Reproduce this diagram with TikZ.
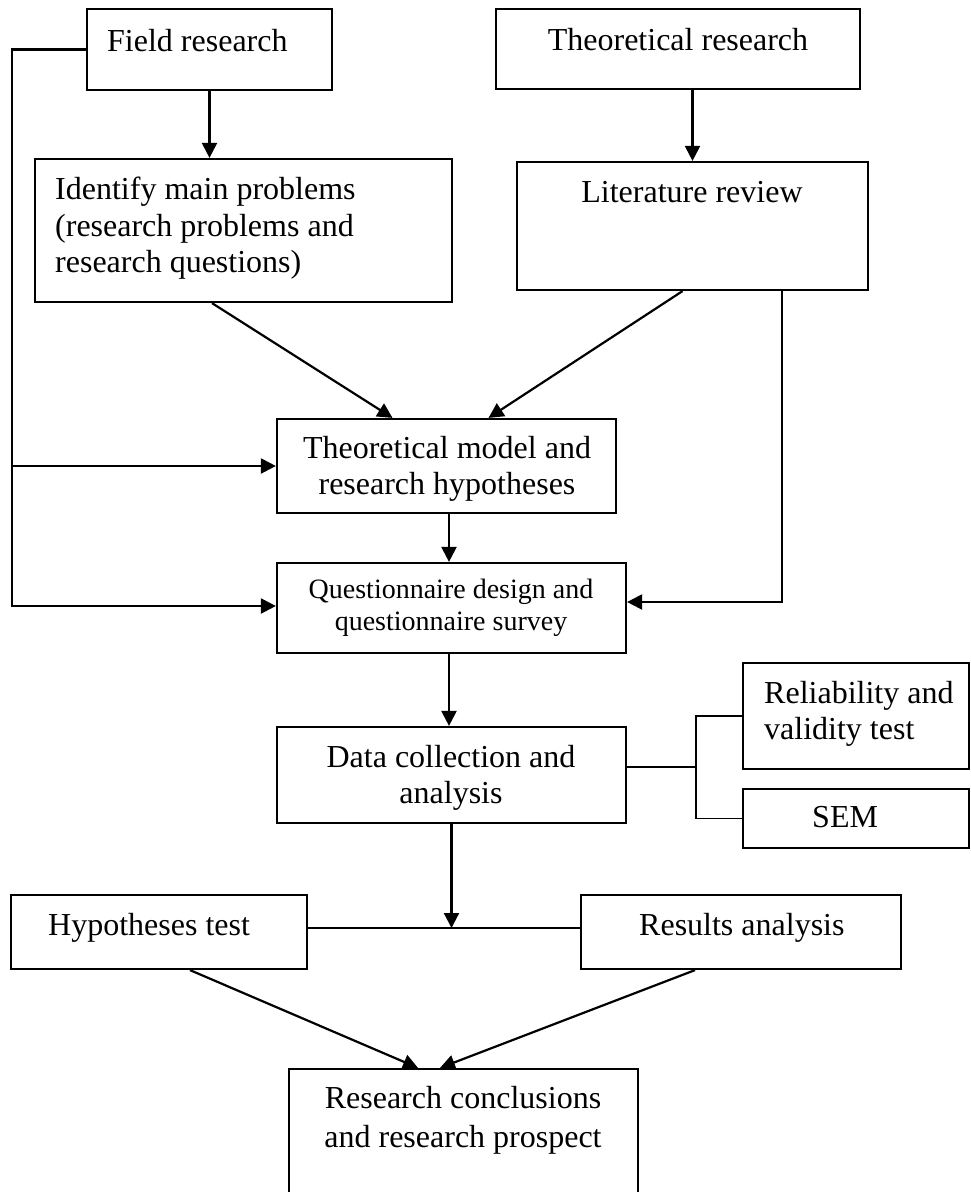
\documentclass[tikz,border=0pt]{standalone}
\usepackage{fontspec}
\setmainfont{Liberation Serif}
\usetikzlibrary{arrows.meta}
\begin{document}
\begin{tikzpicture}[x=1pt,y=-1pt,
  box/.style={draw, line width=2.2pt, rectangle, inner sep=0pt},
  lbl/.style={inner sep=0pt, font=\fontsize{32}{38}\selectfont},
  lblsmall/.style={inner sep=0pt, font=\fontsize{28}{33}\selectfont},
  thinlink/.style={line width=1.7pt},
  arr/.style={line width=2.2pt, -{Triangle[length=15pt,width=15pt]}}]
\useasboundingbox (0,0) rectangle (971,1192);
\clip (0,0) rectangle (971,1192);
\fill[white] (0,0) rectangle (971,1192);

% boxes
\node[box, minimum width=245pt, minimum height=81pt]  (field) at (209.5,49.5) {};
\node[box, minimum width=364pt, minimum height=80pt]  (theo)  at (678,49) {};
\node[box, minimum width=417pt, minimum height=143pt] (ident) at (243.5,230.5) {};
\node[box, minimum width=351pt, minimum height=128pt] (lit)   at (692.5,226) {};
\node[box, minimum width=339pt, minimum height=94pt]  (model) at (446.5,466) {};
\node[box, minimum width=349pt, minimum height=90pt]  (quest) at (451.5,608) {};
\node[box, minimum width=349pt, minimum height=96pt]  (data)  at (451.5,775) {};
\node[box, minimum width=226pt, minimum height=106pt] (rel)   at (856,716) {};
\node[box, minimum width=226pt, minimum height=59pt]  (sem)   at (856,818.5) {};
\node[box, minimum width=296pt, minimum height=74pt]  (hyp)   at (159,932) {};
\node[box, minimum width=320pt, minimum height=74pt]  (res)   at (741,932) {};
\node[box, minimum width=349pt, minimum height=141pt] (conc)  at (463.5,1139.5) {};

% texts
\node[lbl, anchor=base west] (field-t) at (107,51) {Field research};
\node[lbl, anchor=base] (theo-t) at (678,50) {Theoretical research};
\node[lbl, anchor=base west] (ident-t1) at (55,199) {Identify main problems};
\node[lbl, anchor=base west] (ident-t2) at (55,236) {(research problems and};
\node[lbl, anchor=base west] (ident-t3) at (55,272) {research questions)};
\node[lbl, anchor=base] (lit-t) at (692,202) {Literature review};
\node[lbl, anchor=base] (model-t1) at (447,458) {Theoretical model and};
\node[lbl, anchor=base] (model-t2) at (447,494) {research hypotheses};
\node[lblsmall, anchor=base] (quest-t1) at (451,598) {Questionnaire design and};
\node[lblsmall, anchor=base] (quest-t2) at (451,630) {questionnaire survey};
\node[lbl, anchor=base] (data-t1) at (451,767) {Data collection and};
\node[lbl, anchor=base] (data-t2) at (451,803) {analysis};
\node[lbl, anchor=base west] (rel-t1) at (764,703) {Reliability and};
\node[lbl, anchor=base west] (rel-t2) at (764,739) {validity test};
\node[lbl, anchor=base west] (sem-t) at (812,827) {SEM};
\node[lbl, anchor=base west] (hyp-t) at (48,935) {Hypotheses test};
\node[lbl, anchor=base west] (res-t) at (639,935) {Results analysis};
\node[lbl, anchor=base] (conc-t1) at (463,1108) {Research conclusions};
\node[lbl, anchor=base] (conc-t2) at (463,1147) {and research prospect};

% helper columns for the side feedback lines
\coordinate (L) at (12,0);
\coordinate (B) at (696,0);

% main flow
\draw[arr] (field.south) -- (field.south |- ident.north);
\draw[arr] (lit.north |- theo.south) -- (lit.north);
\draw[arr] ([xshift=-31.5pt]ident.south) -- ([xshift=-54pt]model.north);
\draw[arr] ([xshift=-10pt]lit.south) -- ([xshift=42pt]model.north);
\draw[arr] ([xshift=2.5pt]model.south) -- ([xshift=2.5pt]model.south |- quest.north);
\draw[arr] ([xshift=-2.5pt]quest.south) -- ([xshift=-2.5pt]quest.south |- data.north);

% left feedback from field research
\draw[arr] (field.west) -- (field.west -| L) |- ([yshift=2pt]quest.west);
\draw[arr] (L |- model.west) -- (model.west);

% right feedback from literature review
\draw[arr] ([xshift=89.5pt]lit.south) |- ([yshift=6pt]quest.east);

% analysis branches
\draw[thinlink] ([yshift=8pt]data.east) -- ([yshift=8pt]data.east -| B);
\draw[thinlink] (rel.west) -- (rel.west -| B) -- (sem.west -| B) -- (sem.west);

% results
\draw[thinlink] ([yshift=4pt]hyp.east) -- ([yshift=4pt]res.west);
\draw[arr] (data.south) -- ([yshift=4pt]data.south |- hyp.east);
\draw[arr] ([xshift=31pt]hyp.south) -- ([xshift=-45.5pt]conc.north);
\draw[arr] ([xshift=-46pt]res.south) -- ([xshift=-23.5pt]conc.north);
\end{tikzpicture}
\end{document}
